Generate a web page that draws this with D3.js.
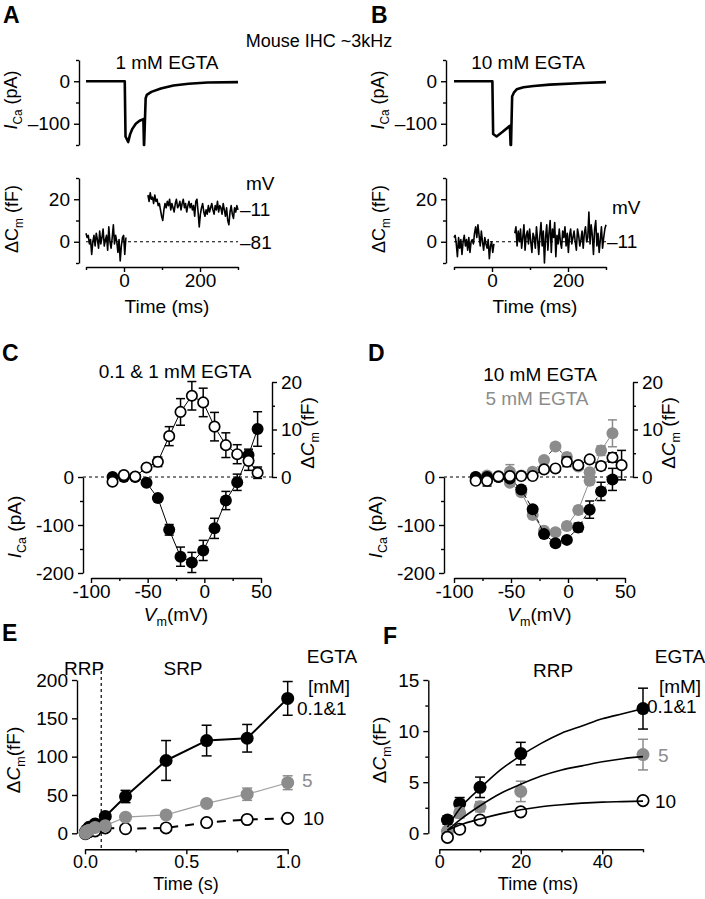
<!DOCTYPE html>
<html><head><meta charset="utf-8">
<script src="https://cdn.jsdelivr.net/npm/d3@7"></script>
<style>
body{margin:0;background:#fff}
svg{display:block}
text{font-family:"Liberation Sans",Arial,Helvetica,sans-serif}
</style></head><body>
<svg id="fig" width="705" height="899"></svg>
<script>
// ---------------- DATA ----------------
// Panel A / B : example traces (time in ms)
const tIcaA = [-100, 2, 4, 11, 16, 22, 31, 41, 51, 52.5, 53, 57, 60, 72, 97, 130, 170, 220, 300];
const icaA  = [0, 0, -130, -143, -125, -112, -100, -93, -89, -150, -150, -40, -32, -25, -17, -10, -6, -3, -2];
const tIcaB = [-100, 1, 3, 12, 28, 47, 49, 50, 53, 58, 65, 83, 110, 152, 240, 300];
const icaB  = [0, 0, -124, -130, -119, -105, -150, -150, -36, -26, -19, -14, -11, -8, -4, -2];
const cmPreStart = -100, cmStep = 3;
const cmApostStart = 63, cmBpostStart = 60;
const cmApre = [4, 2, 3, -1, 1, -6, 0, 3, -2, 4, 1, -3, 5, -1, 2, 6, -2, 1, 3, -4, 7, 0, -3, 2, 8, -1, 3, 0, -5, 1, -9, -2, 2, 3, -6, 2];
const cmApost = [22, 19, 23, 20, 21, 18, 22, 19, 20, 17, 18, 15, 12, 10, 15, 18, 16, 19, 17, 20,
  15, 18, 16, 14, 18, 20, 16, 17, 19, 15, 18, 20, 16, 18, 14, 17, 19, 16, 18, 15,
  17, 12, 19, 20, 14, 7, 13, 16, 18, 14, 12, 15, 13, 17, 14, 16, 18, 15, 13, 17,
  15, 19, 14, 17, 16, 13, 18, 15, 12, 16, 10, 8, 14, 17, 13, 11, 16, 14, 17, 15];
const cmBpre = [2, 3, -1, -7, 2, -3, 1, -6, 0, 3, -2, 1, -4, 2, -5, 0, 1, -1, 4, 7, 2, 8, 3, -2, 5, 0, -4, 2, -1, -3, 1, -8, -2, 0, -5, -1];
const cmBpost = [4, 7, -2, 5, 0, 6, -3, 2, 8, -4, 3, 5, -1, 6, 0, -5, 4, 2, -3, 7,
  1, -6, 3, 9, -2, 5, -10, 2, 8, -4, 4, 10, -5, 6, 2, 9, -7, 3, -1, 6,
  0, -3, 5, 2, 7, -2, 4, -5, 3, 6, -1, 2, 5, 0, -4, 6, 3, -2, 1, 5,
  -3, 4, 7, 0, 2, 14, -1, 8, 3, -6, 6, 10, -2, 4, -5, 1, 7, -3, 2, 6, 8];

// Panel C / D : I-V and dCm-V (mV, pA, fF)
const vSteps = [-81, -71, -61, -51, -41, -31, -21, -11, -1, 9, 19, 29, 39, 47];
const icaC    = [0, 0, 0, -12, -44, -110, -166, -178, -153, -107, -49, -11, 46, 100];
const icaCErr = [2, 2, 2, 4, 5, 11, 20, 21, 21, 21, 19, 17, 12, 36];
const cmC     = [-1.0, 0.4, 0.1, 2.0, 3.2, 8.6, 13.7, 17.1, 15.7, 10.6, 6.7, 4.8, 3.4, 0.9];
const cmCErr  = [0.4, 0.3, 0.3, 0.5, 1.0, 2.0, 2.8, 3.0, 3.0, 3.0, 2.6, 2.0, 2.0, 1.2];
const icaD10    = [0, 0, 0, -3, -26, -67, -119, -138, -131, -105, -68, -30, -5];
const icaD10Err = [1, 1, 1, 2, 4, 5, 6, 6, 6, 9, 18, 19, 23];
const icaD5     = [0, 0, 0, -12, -32, -79, -112, -115, -102, -69, -8, 55, 91];
const icaD5Err  = [1, 1, 1, 3, 4, 5, 6, 6, 7, 8, 8, 10, 28];
const cmD10    = [-0.8, -0.8, 0.1, 0.2, 0.2, 0.2, 1.6, 1.8, 3.2, 2.5, 3.7, 2.3, 4.1, 2.5];
const cmD10Err = [0.5, 1.1, 0.4, 0.5, 0.4, 0.4, 0.5, 0.5, 1.0, 0.6, 0.6, 0.8, 1.0, 3.1];
const cmD5     = [-0.4, 0.3, 0.2, 1.1, 0.3, 1.1, 3.6, 6.4, 4.2, 2.2, 1.0];
const cmD5Err  = [0.4, 0.4, 0.4, 1.5, 0.4, 0.5, 0.6, 0.6, 0.8, 0.6, 0.6];

// Panel E : dCm vs pulse duration (s)
const tE = [0.002, 0.005, 0.01, 0.02, 0.05, 0.1, 0.2, 0.4, 0.6, 0.8, 1.0];
const cmE1    = [1.3, 2.9, 4.5, 7.8, 12.2, 22, 48, 95, 121, 124, 176];
const cmE1Err = [0.4, 0.6, 1.0, 1.1, 2.0, 3, 8, 26, 20, 18, 22];
const cmE5    = [0.2, 2.0, 2.6, 4.1, 7.7, 10, 21, 24, 39, 51, 66];
const cmE5Err = [0.4, 0.5, 0.5, 1.0, 1.5, 2, 3, 3, 4, 8, 9];
const cmE10   = [-0.4, 0.4, 1.3, 2.1, 3.2, 7, 6, 7, 14, 18, 19.5];
const rrpBoundary = 0.08;

// Panel F : RRP (ms)
const tF = [2, 5, 10, 20, 50];
const cmF1 = [1.3, 2.9, 4.5, 7.8, 12.2], cmF1Err = [0.4, 0.6, 1.0, 1.1, 2.0];
const cmF5 = [0.2, 2.0, 2.6, 4.1, 7.7],  cmF5Err = [0.4, 0.5, 0.5, 1.0, 1.5];
const cmF10 = [-0.4, 0.4, 1.3, 2.1, 3.2], cmF10Err = [0.3, 0.3, 0.2, 0.2, 0.2];
const tFit = [2, 5, 10, 15, 20, 25, 30, 35, 40, 45, 50];
const fitF1  = [0.6, 2.4, 4.4, 6.2, 7.6, 8.8, 9.8, 10.5, 11.2, 11.7, 12.2];
const fitF5  = [0.3, 1.3, 2.7, 3.9, 4.8, 5.6, 6.2, 6.6, 7.0, 7.3, 7.5];
const fitF10 = [0.3, 0.8, 1.4, 1.9, 2.3, 2.6, 2.8, 2.95, 3.05, 3.1, 3.15];

// ---------------- DRAWING ----------------
const GREY = '#8c8c8c';
const FS = 19;
const svg = d3.select('#fig');
svg.append('rect').attr('width',705).attr('height',899).attr('fill','#fff');

function rich(g, x, y, parts, o = {}) {
  const size = o.size || FS;
  const t = g.append('text').attr('x', x).attr('y', y)
    .attr('font-size', size).attr('text-anchor', o.anchor || 'middle')
    .attr('fill', o.color || '#000');
  if (o.weight) t.attr('font-weight', o.weight);
  if (o.rotate) t.attr('transform', `rotate(${o.rotate},${x},${y})`);
  let shift = 0;
  parts.forEach(p => {
    const [s, st] = Array.isArray(p) ? p : [p, ''];
    const ts = t.append('tspan').text(s);
    if (st.includes('i')) ts.attr('font-style', 'italic');
    if (st.includes('s')) { ts.attr('font-size', size * 0.66).attr('dy', 5 - shift); shift = 5; }
    else if (shift) { ts.attr('dy', -shift); shift = 0; }
  });
  return t;
}

function axis(orient, scale, pos, major, minor, fmt, pad, fs) {
  const A = { left: d3.axisLeft, right: d3.axisRight, bottom: d3.axisBottom }[orient];
  const g = svg.append('g').attr('transform', orient === 'bottom' ? `translate(0,${pos})` : `translate(${pos},0)`);
  g.call(A(scale).tickValues(major).tickFormat(fmt || (d => d)).tickSize(5).tickSizeOuter(0)
    .tickPadding(pad != null ? pad : (orient === 'bottom' ? 2 : 4)));
  if (minor && minor.length) {
    const m = g.append('g').call(A(scale).tickValues(minor).tickFormat('').tickSize(3).tickSizeOuter(0));
    m.select('.domain').remove();
  }
  g.selectAll('text').attr('font-size', fs || FS).attr('fill', '#000')
    .attr('font-family', '"Liberation Sans",Arial,sans-serif');
  g.selectAll('line,path').attr('stroke', '#000').attr('stroke-width', 1.4);
  return g;
}

function pairs(xs, ys) { return xs.map((x, i) => [x, ys[i]]).filter(d => d[1] != null); }

function line(xs, ys, xS, yS, st) {
  const p = svg.append('path').datum(pairs(xs, ys))
    .attr('d', d3.line().x(d => xS(d[0])).y(d => yS(d[1])).curve(st.curve || d3.curveLinear))
    .attr('fill', 'none').attr('stroke', st.color || '#000').attr('stroke-width', st.w || 1)
    .attr('stroke-linejoin', 'round');
  if (st.dash) p.attr('stroke-dasharray', st.dash);
  return p;
}

function errs(xs, ys, es, xS, yS, color, cap = 4.5) {
  const d = xs.map((x, i) => ({ x, y: ys[i], e: es[i] })).filter(d => d.y != null && d.e);
  const g = svg.append('g').attr('stroke', color).attr('stroke-width', 1.5);
  g.selectAll('.v').data(d).join('line').attr('x1', d => xS(d.x)).attr('x2', d => xS(d.x))
    .attr('y1', d => yS(d.y - d.e)).attr('y2', d => yS(d.y + d.e));
  g.selectAll('.t').data(d).join('line').attr('x1', d => xS(d.x) - cap).attr('x2', d => xS(d.x) + cap)
    .attr('y1', d => yS(d.y + d.e)).attr('y2', d => yS(d.y + d.e));
  g.selectAll('.b').data(d).join('line').attr('x1', d => xS(d.x) - cap).attr('x2', d => xS(d.x) + cap)
    .attr('y1', d => yS(d.y - d.e)).attr('y2', d => yS(d.y - d.e));
}

function dots(xs, ys, xS, yS, kind, r = 6) {
  const g = svg.append('g');
  g.selectAll('circle').data(pairs(xs, ys)).join('circle')
    .attr('cx', d => xS(d[0])).attr('cy', d => yS(d[1])).attr('r', kind === 'open' ? r - 0.8 : r)
    .attr('fill', kind === 'open' ? '#fff' : kind === 'grey' ? GREY : '#000')
    .attr('stroke', kind === 'open' ? '#000' : 'none').attr('stroke-width', 1.7);
}

const dashFmt = d => d < 0 ? '\u2013' + Math.abs(d) : '' + d;
const hyFmt = d => d < 0 ? '-' + Math.abs(d) : '' + d;

// ---------- Panel letters and titles ----------
[['A', 3, 23], ['B', 371, 23], ['C', 2, 361], ['D', 368, 361], ['E', 2, 641], ['F', 383, 644]].forEach(([s, x, y]) =>
  rich(svg, x, y, [s], { anchor: 'start', size: 23, weight: 'bold' }));
rich(svg, 319, 47, ['Mouse IHC ~3kHz'], { size: 18 });

// ---------- Panels A & B ----------
function tracePanel(xDom, xRange, axX, pre, post, postStart, tI, iVals, title, titleX, mvLabels) {
  const xS = d3.scaleLinear().domain(xDom).range(xRange);
  const yI = d3.scaleLinear().domain([50, -150]).range([60, 145]);
  const yC = d3.scaleLinear().domain([30, -10]).range([178, 263]);
  axis('left', yI, axX, [0, -100], [50, -50, -150], dashFmt);
  axis('left', yC, axX, [20, 0], [30, 10, -10], dashFmt);
  axis('bottom', xS, 267, [0, 200], [-100, 100, 300], dashFmt);
  svg.append('line').attr('x1', xS(-100)).attr('x2', xS(300)).attr('y1', yC(0)).attr('y2', yC(0))
    .attr('stroke', '#000').attr('stroke-width', 1.2).attr('stroke-dasharray', '3,3');
  line(tI, iVals, xS, yI, { w: 2.6 });
  line(pre.map((_, i) => cmPreStart + cmStep * i), pre, xS, yC, { w: 1.6 });
  line(post.map((_, i) => postStart + cmStep * i), post, xS, yC, { w: 1.6 });
  rich(svg, titleX, 69, [title]);
  const lx = axX - 62;
  rich(svg, lx, 100, [['I', 'i'], ['Ca', 's'], ' (pA)'], { rotate: -90, size: 18 });
  rich(svg, lx + 1, 219, ['\u0394C', ['m', 's'], ' (fF)'], { rotate: -90, size: 18 });
  rich(svg, (xRange[0] + xRange[1]) / 2 + 5, 313, ['Time (ms)']);
  mvLabels.forEach(([s, x, y]) => rich(svg, x, y, [s], { anchor: 'start' }));
}
tracePanel([-100, 300], [86, 238], 79, cmApre, cmApost, cmApostStart, tIcaA, icaA, '1 mM EGTA', 167,
  [['mV', 246, 190], ['\u201311', 240, 216], ['\u201381', 240, 249]]);
tracePanel([-100, 300], [454, 606], 446, cmBpre, cmBpost, cmBpostStart, tIcaB, icaB, '10 mM EGTA', 528,
  [['mV', 612, 214], ['\u201311', 607, 248]]);

// ---------- Panels C & D ----------
function ivPanel(xRange, leftX, rightX) {
  const xS = d3.scaleLinear().domain([-100, 50]).range(xRange);
  const yI = d3.scaleLinear().domain([0, -200]).range([477, 573]);
  const yC = d3.scaleLinear().domain([0, 20]).range([477, 382]);
  axis('left', yI, leftX, [0, -100, -200], [-50, -150], hyFmt);
  axis('right', yC, rightX, [0, 10, 20], [5, 15], hyFmt);
  axis('bottom', xS, 578, [-100, -50, 0, 50], [-75, -25, 25], hyFmt);
  svg.append('line').attr('x1', leftX).attr('x2', rightX).attr('y1', yI(0)).attr('y2', yI(0))
    .attr('stroke', '#000').attr('stroke-width', 1.2).attr('stroke-dasharray', '3,3');
  rich(svg, leftX - 62, 527, [['I', 'i'], ['Ca', 's'], ' (pA)'], { rotate: -90 });
  rich(svg, rightX + 42, 433, ['\u0394', ['C', 'i'], ['m', 's'], ' (fF)'], { rotate: -90 });
  rich(svg, (xRange[0] + xRange[1]) / 2, 621, [['V', 'i'], ['m', 's'], '(mV)']);
  return { xS, yI, yC };
}
{
  const { xS, yI, yC } = ivPanel([91, 261], 83, 272);
  line(vSteps, icaC, xS, yI, {});
  line(vSteps, cmC, xS, yC, {});
  errs(vSteps, icaC, icaCErr, xS, yI, '#000');
  errs(vSteps, cmC, cmCErr, xS, yC, '#000');
  dots(vSteps, icaC, xS, yI, 'black');
  dots(vSteps, cmC, xS, yC, 'open');
  rich(svg, 175, 378, ['0.1 & 1 mM EGTA']);
}
{
  const { xS, yI, yC } = ivPanel([454, 625], 444, 633);
  const v13 = vSteps.slice(0, icaD5.length);
  const v11 = vSteps.slice(0, cmD5.length);
  line(v11, cmD5, xS, yC, { dash: '4,3', color: '#333' });
  line(v13, icaD5, xS, yI, { color: GREY });
  errs(v11, cmD5, cmD5Err, xS, yC, GREY);
  errs(v13, icaD5, icaD5Err, xS, yI, GREY);
  dots(v11, cmD5, xS, yC, 'grey');
  dots(v13, icaD5, xS, yI, 'grey');
  const v10 = vSteps.slice(0, icaD10.length);
  line(v10, icaD10, xS, yI, { dash: '4,3' });
  errs(v10, icaD10, icaD10Err, xS, yI, '#000');
  dots(v10, icaD10, xS, yI, 'black');
  line(vSteps, cmD10, xS, yC, { dash: '4,3' });
  errs(vSteps, cmD10, cmD10Err, xS, yC, '#000');
  dots(vSteps, cmD10, xS, yC, 'open');
  rich(svg, 540, 381, ['10 mM EGTA']);
  rich(svg, 537, 405, ['5 mM EGTA'], { color: GREY });
}

// ---------- Panel E ----------
{
  const xS = d3.scaleLinear().domain([0, 1]).range([85, 287.7]);
  const yS = d3.scaleLinear().domain([0, 200]).range([833.3, 680]);
  axis('left', yS, 77, [0, 50, 100, 150, 200], []);
  axis('bottom', xS, 849.3, [0, 0.5, 1], [0.25, 0.75], d3.format('.1f'), 1, 18);
  svg.append('line').attr('x1', xS(rrpBoundary)).attr('x2', xS(rrpBoundary)).attr('y1', 665).attr('y2', 849)
    .attr('stroke', '#000').attr('stroke-width', 1.2).attr('stroke-dasharray', '3,3');
  line(tE.slice(5), cmE10.slice(5), xS, yS, { w: 2, dash: '9,7' });
  line(tE.slice(0, 6), cmE10.slice(0, 6), xS, yS, { w: 1 });
  line(tE, cmE1, xS, yS, { w: 2 });
  line(tE, cmE5, xS, yS, { w: 1.2, color: '#a0a0a0' });
  dots(tE, cmE10, xS, yS, 'open', 6.5);
  errs(tE, cmE1, cmE1Err, xS, yS, '#000', 5);
  dots(tE, cmE1, xS, yS, 'black', 6.5);
  errs(tE, cmE5, cmE5Err, xS, yS, GREY, 5);
  dots(tE, cmE5, xS, yS, 'grey', 6.5);
  rich(svg, 20, 760, ['\u0394', ['C', 'i'], ['m', 's'], '(fF)'], { rotate: -90 });
  rich(svg, 186, 890, ['Time (s)'], { size: 18 });
  rich(svg, 84, 675, ['RRP']);
  rich(svg, 183, 675, ['SRP']);
  rich(svg, 332, 663, ['EGTA']);
  rich(svg, 329, 693, ['[mM]']);
  rich(svg, 297, 715, ['0.1&1'], { anchor: 'start' });
  rich(svg, 302, 787, ['5'], { anchor: 'start', color: GREY });
  rich(svg, 303, 825, ['10'], { anchor: 'start' });
}

// ---------- Panel F ----------
{
  const xS = d3.scaleLinear().domain([0, 50]).range([439.3, 643]);
  const yS = d3.scaleLinear().domain([0, 15]).range([833.3, 680]);
  axis('left', yS, 428.3, [0, 5, 10, 15], [2.5, 7.5, 12.5]);
  axis('bottom', xS, 849.3, [0, 20, 40], [10, 30, 50], null, 1, 18);
  errs(tF, cmF1, cmF1Err, xS, yS, '#000', 5);
  dots(tF, cmF1, xS, yS, 'black', 6.5);
  errs(tF, cmF5, cmF5Err, xS, yS, GREY, 5);
  dots(tF, cmF5, xS, yS, 'grey', 6.5);
  errs(tF, cmF10, cmF10Err, xS, yS, '#000', 5);
  dots(tF, cmF10, xS, yS, 'open', 6.5);
  line(tFit, fitF1, xS, yS, { w: 1.6, curve: d3.curveMonotoneX });
  line(tFit, fitF5, xS, yS, { w: 1.6, curve: d3.curveMonotoneX });
  line(tFit, fitF10, xS, yS, { w: 1.6, curve: d3.curveMonotoneX });
  rich(svg, 386, 750, ['\u0394', ['C', 'i'], ['m', 's'], '(fF)'], { rotate: -90 });
  rich(svg, 538, 890, ['Time (ms)'], { size: 18 });
  rich(svg, 553, 677, ['RRP']);
  rich(svg, 680, 663, ['EGTA']);
  rich(svg, 680, 693, ['[mM]']);
  rich(svg, 647, 713, ['0.1&1'], { anchor: 'start' });
  rich(svg, 658, 762, ['5'], { anchor: 'start', color: GREY });
  rich(svg, 655, 808, ['10'], { anchor: 'start' });
}
</script>
</body></html>
